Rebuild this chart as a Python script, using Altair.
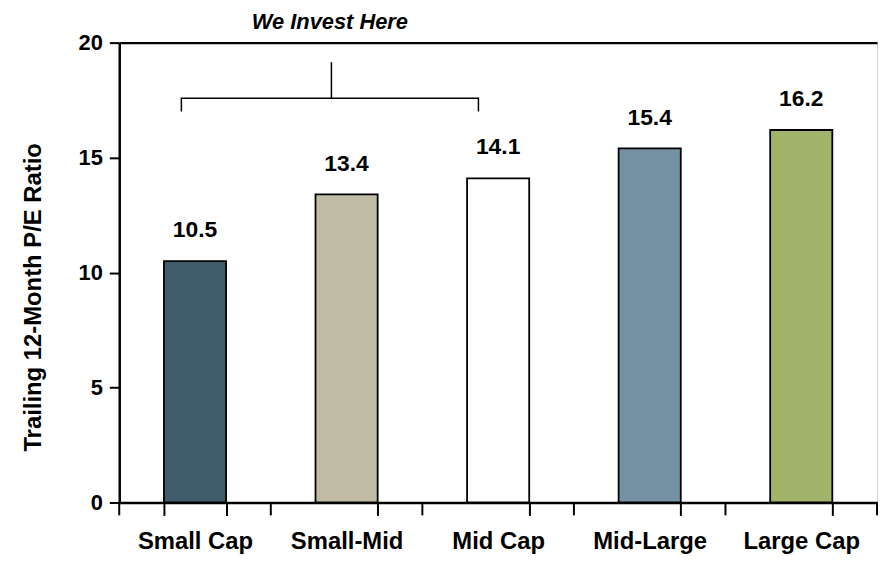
import altair as alt
import pandas as pd

categories = ["Small Cap", "Small-Mid", "Mid Cap", "Mid-Large", "Large Cap"]
pe_values = [10.5, 13.4, 14.1, 15.4, 16.2]
bar_colors = ["#405C6A", "#C0BBA4", "#FFFFFF", "#7592A4", "#A2B36A"]

# bracket annotation ("We Invest Here") in band units (0..5) and P/E units
bracket_x = [0.41, 0.41, 2.37, 2.37]
bracket_y = [17.0, 17.58, 17.58, 17.0]
stem_x = [1.40, 1.40]
stem_y = [17.58, 19.15]
note_text = ["We Invest Here"]
note_x = [1.39]
note_y = [20.6]
# category-boundary tick marks below the x axis (band units)
boundary_x = [0, 1, 2, 3, 4, 5]
tick_top = [0.0] * 6
tick_bottom = [-0.56] * 6

FONT = "Liberation Sans"

bars_df = pd.DataFrame({"cat": categories, "pe": pe_values,
                        "label": [f"{v:.1f}" for v in pe_values]})
bracket_df = pd.DataFrame({"bx": bracket_x, "by": bracket_y, "order": range(4)})
stem_df = pd.DataFrame({"bx": stem_x, "by": stem_y, "order": range(2)})
note_df = pd.DataFrame({"bx": note_x, "by": note_y, "t": note_text})
ticks_df = pd.DataFrame({"bx": boundary_x, "y1": tick_top, "y2": tick_bottom})

yscale = alt.Scale(domain=[0, 20], nice=False)
xscale = alt.Scale(paddingInner=0.59, paddingOuter=0.295)

x_axis = alt.Axis(title=None, labelAngle=0, ticks=True, tickBand="extent",
                  tickSize=13, tickWidth=2, tickColor="black",
                  domainColor="black", domainWidth=2.5,
                  labelFont=FONT, labelFontSize=24, labelFontWeight="bold",
                  labelColor="black", labelPadding=14)
yenc = alt.Y("pe:Q", scale=yscale,
             axis=alt.Axis(title="Trailing 12-Month P/E Ratio", values=[0, 5, 10, 15, 20],
                           tickSize=10, tickWidth=2, tickColor="black",
                           domainColor="black", domainWidth=2.5,
                           labelFont=FONT, labelFontSize=22, labelFontWeight="bold",
                           labelColor="black", labelPadding=7, grid=False,
                           titleFont=FONT, titleFontSize=24, titleFontWeight="bold",
                           titleColor="black", titleX=-86, titleY=256,
                           titleBaseline="middle"))

bars = alt.Chart(bars_df).mark_bar(stroke="black", strokeWidth=1.8).encode(
    x=alt.X("cat:N", sort=categories, scale=xscale, axis=x_axis),
    y=yenc,
    color=alt.Color("cat:N", sort=categories,
                    scale=alt.Scale(domain=categories, range=bar_colors), legend=None),
)

labels = alt.Chart(bars_df).mark_text(
    font=FONT, fontSize=23, fontWeight="bold", color="black",
    baseline="middle", dy=-31
).encode(x=alt.X("cat:N", sort=categories, scale=xscale, axis=x_axis),
         y=alt.Y("pe:Q", scale=yscale), text="label:N")

bar_layer = alt.layer(bars, labels)

bx_scale = alt.Scale(domain=[0, 5], nice=False, zero=False)
top_axis = alt.Axis(orient="top", title=None, labels=False, ticks=False,
                    domainColor="black", domainWidth=2.5, grid=False)

bracket = alt.Chart(bracket_df).mark_line(color="black", strokeWidth=1.5).encode(
    x=alt.X("bx:Q", scale=bx_scale, axis=top_axis),
    y=alt.Y("by:Q", scale=yscale),
    order="order:Q",
)
stem = alt.Chart(stem_df).mark_line(color="black", strokeWidth=1.5).encode(
    x=alt.X("bx:Q", scale=bx_scale, axis=top_axis),
    y=alt.Y("by:Q", scale=yscale),
    order="order:Q",
)
note = alt.Chart(note_df).mark_text(
    font=FONT, fontSize=22, fontWeight="bold", fontStyle="italic", color="black",
    baseline="alphabetic", align="center"
).encode(x=alt.X("bx:Q", scale=bx_scale, axis=top_axis),
         y=alt.Y("by:Q", scale=yscale), text="t:N")
xticks = alt.Chart(ticks_df).mark_rule(color="black", strokeWidth=2).encode(
    x=alt.X("bx:Q", scale=bx_scale, axis=top_axis),
    y=alt.Y("y1:Q", scale=yscale),
    y2="y2:Q",
)

annot_layer = alt.layer(bracket, stem, note, xticks)

chart = alt.layer(bar_layer, annot_layer).resolve_scale(x="independent").properties(
    width=763, height=463,
    autosize=alt.AutoSizeParams(type="none"),
    padding={"left": 112, "top": 33, "right": 5, "bottom": 50},
).configure_view(stroke="#d0d0d0", strokeWidth=1)

chart.save("out.html", embed_options={"renderer": "svg", "actions": False})
